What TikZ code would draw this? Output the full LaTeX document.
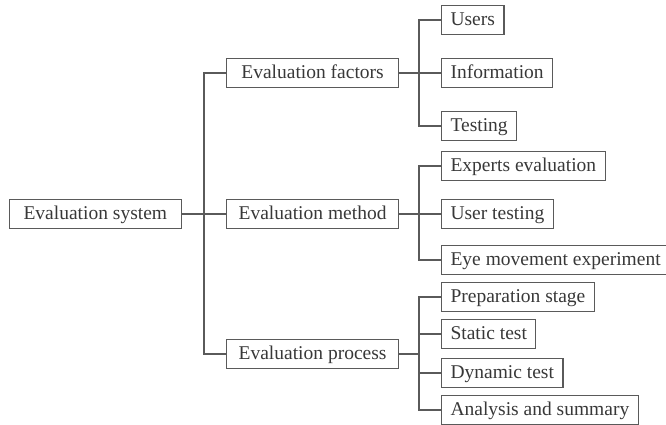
\documentclass[tikz,border=0pt]{standalone}
\usepackage{fontspec}
\setmainfont{Liberation Serif}
\usepackage{xcolor}
\usetikzlibrary{positioning,calc}
\definecolor{linegray}{HTML}{5A5A5A}
\definecolor{textgray}{HTML}{383838}

\begin{document}
\begin{tikzpicture}[x=1pt, y=-1pt, font=\fontsize{19.5}{22}\selectfont, text=textgray]
\tikzstyle{box}=[draw=linegray, line width=1.1pt, minimum height=29pt, inner ysep=0pt, text height=13.5pt, text depth=3.5pt]
\tikzstyle{root}=[box, inner xsep=14pt]
\tikzstyle{mid}=[box, minimum width=172pt, anchor=west]
\tikzstyle{leaf}=[box, inner xsep=9pt, anchor=west]
\tikzstyle{link}=[draw=linegray, line width=1.1pt]
\useasboundingbox (0,0) rectangle (666,424);
% first level
\node[root, anchor=west] (sys) at (9,214) {Evaluation system};
\node[mid] (fac) at (226,73) {Evaluation factors};
\node[mid] (meth) at (226,214) {Evaluation method};
\node[mid] (proc) at (226,354) {Evaluation process};
% second level
\node[leaf] (users) at (441,20) {Users};
\node[leaf] (info) at (441,73) {Information};
\node[leaf] (testing) at (441,126) {Testing};
\node[leaf] (expert) at (441,166) {Experts evaluation};
\node[leaf] (utest) at (441,214) {User testing};
\node[leaf] (eye) at (441,260) {Eye movement experiment};
\node[leaf] (prep) at (441,297) {Preparation stage};
\node[leaf] (static) at (441,334) {Static test};
\node[leaf] (dyn) at (441,373) {Dynamic test};
\node[leaf] (anal) at (441,410) {Analysis and summary};
% connectors
\draw[link] (sys.east) -- (meth.west);
\draw[link] (fac.west) -- ++(-22,0) |- (proc.west);
\draw[link] (fac.east) -- (info.west);
\draw[link] (users.west) -- ++(-22,0) |- (testing.west);
\draw[link] (meth.east) -- (utest.west);
\draw[link] (expert.west) -- ++(-22,0) |- (eye.west);
\draw[link] (proc.east) -- ($(proc.east -| prep.west)+(-22,0)$);
\draw[link] (prep.west) -- ++(-22,0) |- (anal.west);
\draw[link] (static.west) -- ++(-22,0);
\draw[link] (dyn.west) -- ++(-22,0);
\end{tikzpicture}
\end{document}
